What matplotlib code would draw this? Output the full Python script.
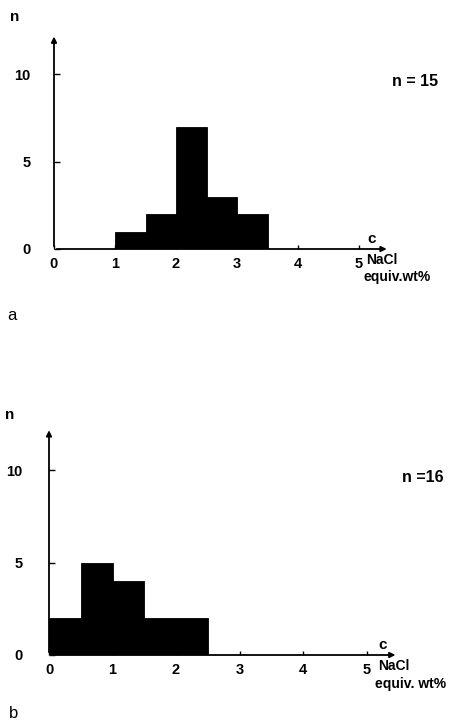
import numpy as np
import matplotlib
matplotlib.use("Agg")
import matplotlib.pyplot as plt

plt.rcParams['font.family'] = ['Liberation Sans', 'DejaVu Sans']

W, H = 454, 726

# histogram data (bin left edges, bin width 0.5)
bins_a = [1.0, 1.5, 2.0, 2.5, 3.0]
counts_a = [1, 2, 7, 3, 2]
bins_b = [0.0, 0.5, 1.0, 1.5, 2.0]
counts_b = [2, 5, 4, 2, 2]
xticks = [0, 1, 2, 3, 4, 5]
yticks = [0, 5, 10]
labels = ['a', 'b']
totals = ['n = 15', 'n =16']
units = ['equiv.wt%', 'equiv. wt%']


def px(x, y):
    return x / W, 1 - y / H


def panel(x0, y0, sx, sy, bins, counts, tag, total, unit, tag_pos, n_pos, total_pos, ypad, unit_x):
    xmax, ymax = 6.0, 12.5
    ax = fig.add_axes([x0 / W, (H - y0) / H, xmax * sx / W, ymax * sy / H])
    ax.set_xlim(0, xmax)
    ax.set_ylim(0, ymax)
    ax.bar(bins, counts, width=0.5, align='edge', color='black', edgecolor='black', lw=0.6)
    for s in ax.spines.values():
        s.set_visible(False)
    ax.patch.set_alpha(0)
    # axis arrows
    ax.annotate('', xy=(5.5, 0), xytext=(0, 0),
                arrowprops=dict(arrowstyle='-|>', lw=1.3, color='black', mutation_scale=8),
                annotation_clip=False)
    ax.annotate('', xy=(0, 12.3), xytext=(0, 0),
                arrowprops=dict(arrowstyle='-|>', lw=1.3, color='black', mutation_scale=8),
                annotation_clip=False)
    ax.set_xticks(xticks)
    ax.set_yticks(yticks)
    ax.tick_params(axis='x', direction='in', length=3, width=1, pad=6, labelsize=10.5)
    ax.tick_params(axis='y', direction='in', length=4, width=1, pad=ypad, labelsize=10.5)
    for t in ax.get_xticklabels() + ax.get_yticklabels():
        t.set_fontweight('bold')
    ax.text(unit_x + 0.08, 0.15, 'c', fontsize=11, fontweight='bold', ha='center', va='bottom')
    ax.text(unit_x, -0.2, 'NaCl', fontsize=10, fontweight='bold', ha='left', va='top')
    ax.text(unit_x - 0.05, -1.2, unit, fontsize=10, fontweight='bold', ha='left', va='top')
    fig.text(*px(*n_pos), 'n', fontsize=11, fontweight='bold', ha='center', va='center')
    fig.text(*px(*total_pos), total, fontsize=11.5, fontweight='bold', ha='center', va='center')
    fig.text(*px(*tag_pos), tag, fontsize=12, ha='center', va='center')
    return ax


fig = plt.figure(figsize=(W / 100, H / 100), dpi=100)
fig.patch.set_facecolor('white')

panel(54, 249, 61, 17.5, bins_a, counts_a, labels[0], totals[0], units[0],
      (12, 315), (15, 17), (415, 82), 17, 5.12)
panel(49, 655, 63.5, 18.5, bins_b, counts_b, labels[1], totals[1], units[1],
      (14, 713), (10, 415), (423, 477), 19, 5.18)

fig.savefig('out.png', dpi=100)
